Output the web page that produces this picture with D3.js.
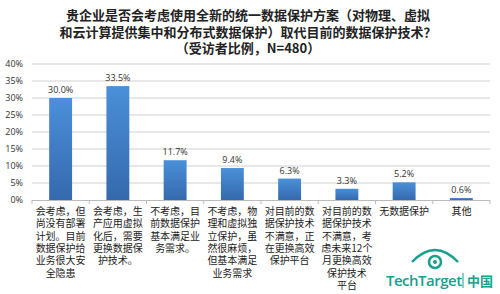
<!DOCTYPE html>
<html>
<head>
<meta charset="utf-8">
<script src="https://cdnjs.cloudflare.com/ajax/libs/d3/7.8.5/d3.min.js"></script>
<style>
  body { margin: 0; background: #fff; }
  svg { display: block; }
</style>
</head>
<body>
<div id="chart"></div>
<script>
// data
var categories = [
  ["会考虑，但", "尚没有部署", "计划。目前", "数据保护给", "业务很大安", "全隐患"],
  ["会考虑，生", "产应用虚拟", "化后，需要", "更换数据保", "护技术。"],
  ["不考虑，目", "前数据保护", "基本满足业", "务需求。"],
  ["不考虑，物", "理和虚拟独", "立保护，虽", "然很麻烦，", "但基本满足", "业务需求"],
  ["对目前的数", "据保护技术", "不满意，正", "在更换高效", "保护平台"],
  ["对目前的数", "据保护技术", "不满意，考", "虑未来12个", "月更换高效", "保护技术", "平台"],
  ["无数据保护"],
  ["其他"]
];
var values = [30.0, 33.5, 11.7, 9.4, 6.3, 3.3, 5.2, 0.6];
var yTicks = [0, 5, 10, 15, 20, 25, 30, 35, 40];
var titleLines = [
  "贵企业是否会考虑使用全新的统一数据保护方案（对物理、虚拟",
  "和云计算提供集中和分布式数据保护）取代目前的数据保护技术？",
  "（受访者比例，N=480）"
];

var W = 500, H = 294;
var mLeft = 32, mRight = 490, mTop = 64, mBottom = 200;

var svg = d3.select("#chart").append("svg")
  .attr("width", W).attr("height", H);

var defs = svg.append("defs");
var grad = defs.append("linearGradient").attr("id", "barGrad")
  .attr("x1", 0).attr("y1", 0).attr("x2", 0).attr("y2", 1);
grad.append("stop").attr("offset", "0%").attr("stop-color", "#4a90d9");
grad.append("stop").attr("offset", "100%").attr("stop-color", "#3569ad");

var x = d3.scaleBand().domain(d3.range(values.length))
  .range([mLeft, mRight]).paddingInner(0.6).paddingOuter(0.3);
var xTick = d3.scaleLinear().domain([0, values.length]).range([mLeft, mRight]);
var y = d3.scaleLinear().domain([0, 40]).range([mBottom, mTop]);

// title
svg.append("g").selectAll("text").data(titleLines).enter().append("text")
  .attr("x", 248).attr("y", function(d, i) { return 20 + i * 16.5; })
  .attr("text-anchor", "middle")
  .style("font-family", "'Noto Sans CJK SC', sans-serif")
  .style("font-size", "13px").style("font-weight", "bold")
  .style("fill", "#222")
  .text(function(d) { return d; });

// grid
svg.append("g").selectAll("line").data(yTicks.filter(function(t) { return t > 0; }))
  .enter().append("line")
  .attr("x1", mLeft).attr("x2", mRight)
  .attr("y1", function(d) { return y(d); }).attr("y2", function(d) { return y(d); })
  .style("stroke", "#cfcfcf").style("stroke-width", 1);

// y axis labels
var yAxis = d3.axisLeft(y).tickValues(yTicks).tickSize(0).tickPadding(9)
  .tickFormat(function(d) { return d + "%"; });
var gy = svg.append("g").attr("transform", "translate(" + mLeft + ",0)").call(yAxis);
gy.select(".domain").remove();
gy.selectAll("text")
  .style("font-family", "'Open Sans', 'DejaVu Sans', sans-serif")
  .style("font-size", "9px").style("fill", "#333");

// bars
svg.append("g").selectAll("rect").data(values).enter().append("rect")
  .attr("x", function(d, i) { return x(i); })
  .attr("width", x.bandwidth())
  .attr("y", function(d) { return y(d); })
  .attr("height", function(d) { return mBottom - y(d); })
  .style("fill", "url(#barGrad)");

// value labels
svg.append("g").selectAll("text").data(values).enter().append("text")
  .attr("x", function(d, i) { return x(i) + x.bandwidth() / 2; })
  .attr("y", function(d) { return y(d) - 5; })
  .attr("text-anchor", "middle")
  .style("font-family", "'Open Sans', 'DejaVu Sans', sans-serif")
  .style("font-size", "9px").style("fill", "#333")
  .text(function(d) { return d.toFixed(1) + "%"; });

// x axis line and ticks
svg.append("line").attr("x1", mLeft).attr("x2", mRight)
  .attr("y1", mBottom + 0.5).attr("y2", mBottom + 0.5)
  .style("stroke", "#bbb");
svg.append("g").selectAll("line").data(d3.range(values.length + 1)).enter().append("line")
  .attr("x1", function(d) { return xTick(d); }).attr("x2", function(d) { return xTick(d); })
  .attr("y1", mBottom).attr("y2", mBottom + 4)
  .style("stroke", "#bbb");

// category labels
var cat = svg.append("g").selectAll("text").data(categories).enter().append("text")
  .attr("text-anchor", "middle")
  .style("font-family", "'Noto Sans CJK SC', sans-serif")
  .style("font-size", "10px").style("fill", "#222");
cat.each(function(lines, i) {
  d3.select(this).selectAll("tspan").data(lines).enter().append("tspan")
    .attr("x", x(i) + x.bandwidth() / 2)
    .attr("y", function(d, j) { return 215 + j * 12.3; })
    .text(function(d) { return d; });
});

// TechTarget logo
var teal = "#17a08c";
var logo = svg.append("g");
logo.append("path")
  .attr("d", "M412,262 Q435,238 458,262")
  .style("fill", "none").style("stroke", teal).style("stroke-width", 2.5);
logo.append("circle").attr("cx", 435).attr("cy", 262).attr("r", 6)
  .style("fill", "none").style("stroke", teal).style("stroke-width", 2.5);
logo.append("circle").attr("cx", 435).attr("cy", 262).attr("r", 2)
  .style("fill", teal);
logo.append("text").attr("x", 386).attr("y", 286)
  .style("font-family", "'Open Sans', sans-serif")
  .style("font-size", "15px").style("font-weight", "600")
  .style("fill", teal).style("letter-spacing", "-0.5px")
  .text("TechTarget");
logo.append("line").attr("x1", 463).attr("x2", 463).attr("y1", 273).attr("y2", 288)
  .style("stroke", teal).style("stroke-width", 1);
logo.append("text").attr("x", 467).attr("y", 286)
  .style("font-family", "'Noto Sans CJK SC', sans-serif")
  .style("font-size", "13px").style("font-weight", "bold")
  .style("fill", teal)
  .text("中国");
</script>
</body>
</html>
